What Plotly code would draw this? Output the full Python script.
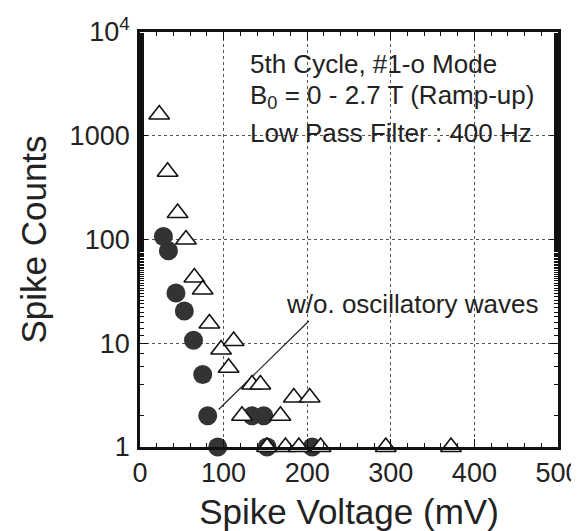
import plotly.graph_objects as go

# Open triangles: w/ oscillatory waves (all spikes)
tri_x = [23, 33, 45, 55, 65, 75, 83, 97, 112, 106, 134, 144, 184, 203, 122, 168, 152, 174, 190, 216, 294, 372]
tri_y = [1600, 450, 180, 100, 43, 33, 15.5, 8.7, 10.5, 5.8, 4.0, 4.0, 3.0, 3.0, 2, 2, 1, 1, 1, 1, 1, 1]

# Filled circles: w/o. oscillatory waves
cir_x = [28, 34, 43, 53, 64, 75, 81, 93, 134, 148, 152, 206]
cir_y = [107, 78, 30.5, 20.5, 10.7, 5.0, 2, 1, 2, 2, 1, 1]

# pointer line of the "w/o. oscillatory waves" label
ptr_x = [94, 202]
ptr_y = [2.3, 16.4]

x_ticks = [0, 100, 200, 300, 400, 500]
y_ticks = [1, 10, 100, 1000, 10000]
y_ticktext = ["1", "10", "100", "1000", "10<sup>4</sup>"]

FONT = "Liberation Sans, Arial, sans-serif"
TXT = "#222222"

fig = go.Figure()
fig.add_trace(go.Scatter(x=ptr_x, y=ptr_y, mode="lines",
                         line=dict(color="#222222", width=1.2),
                         showlegend=False, hoverinfo="skip"))
fig.add_trace(go.Scatter(x=cir_x, y=cir_y, mode="markers", cliponaxis=False,
                         marker=dict(symbol="circle", size=19, color="#333333",
                                     line=dict(color="#333333", width=0)),
                         showlegend=False))
fig.add_trace(go.Scatter(x=tri_x, y=tri_y, mode="markers", cliponaxis=False,
                         marker=dict(symbol="triangle-up", size=18, color="white",
                                     line=dict(color="#111111", width=1.6)),
                         showlegend=False))

axis_common = dict(
    showline=True, linecolor="#111111", linewidth=2.8, mirror="allticks",
    ticks="inside", ticklen=8, tickwidth=1.2, tickcolor="#111111",
    showgrid=True, gridcolor="#555555", gridwidth=1, griddash="dot",
    zeroline=False,
    tickfont=dict(family=FONT, size=27, color=TXT),
)

fig.update_xaxes(
    range=[0, 500], tickvals=x_ticks, automargin=False,
    minor=dict(dtick=20, ticks="inside", ticklen=4, tickwidth=1, tickcolor="#111111", showgrid=False),
    title=dict(text="Spike Voltage (mV)", font=dict(family=FONT, size=35, color=TXT), standoff=13),
    **axis_common,
)
fig.update_yaxes(
    type="log", range=[0, 4], tickvals=y_ticks, ticktext=y_ticktext, automargin=False,
    ticklabelstandoff=2,
    minor=dict(ticks="inside", ticklen=4, tickwidth=1, tickcolor="#111111", showgrid=False),
    title=dict(text="Spike Counts", font=dict(family=FONT, size=35, color=TXT), standoff=13),
    **axis_common,
)

ann_font = dict(family=FONT, size=26, color=TXT)
fig.add_annotation(xref="paper", yref="paper", x=0.258, y=0.922, xanchor="left", yanchor="middle",
                   text="5th Cycle, #1-o Mode", showarrow=False, font=ann_font)
fig.add_annotation(xref="paper", yref="paper", x=0.258, y=0.845, xanchor="left", yanchor="middle",
                   text="B<sub>0</sub> = 0 - 2.7 T (Ramp-up)", showarrow=False, font=ann_font)
fig.add_annotation(xref="paper", yref="paper", x=0.258, y=0.756, xanchor="left", yanchor="middle",
                   text="Low Pass Filter : 400 Hz", showarrow=False, font=ann_font)
fig.add_annotation(xref="paper", yref="paper", x=0.957, y=0.345, xanchor="right", yanchor="middle",
                   text="w/o. oscillatory waves", showarrow=False, font=ann_font)

fig.update_layout(
    width=579, height=531,
    margin=dict(l=132, r=29, t=24, b=92),
    paper_bgcolor="white", plot_bgcolor="white",
    font=dict(family=FONT, color=TXT),
)

fig.write_html("out.html")
